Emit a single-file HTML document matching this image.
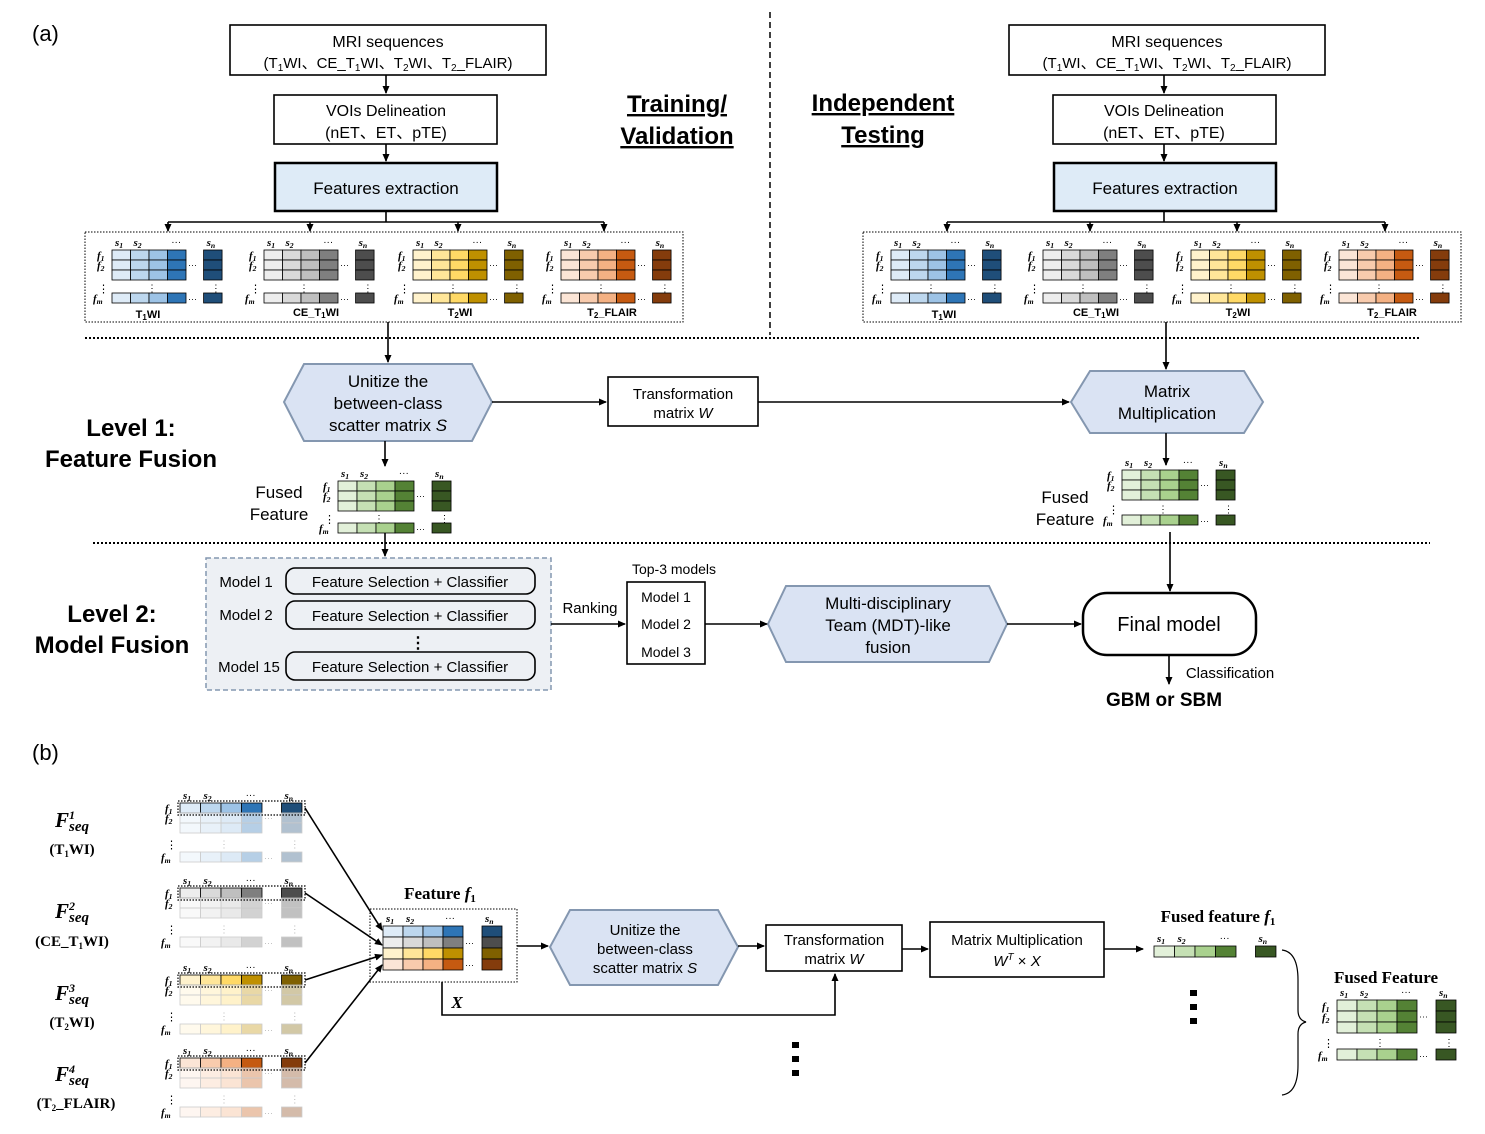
<!DOCTYPE html>
<html><head><meta charset="utf-8"><style>
body{margin:0;background:#fff}
svg{display:block;font-family:"Liberation Sans",Arial,sans-serif}
.t{font-size:16px;text-anchor:middle;fill:#000}
.b{font-weight:bold}
.s{font-family:"Liberation Serif",serif;font-style:italic}
</style></head><body>
<svg id="S" width="1485" height="1134" viewBox="0 0 1485 1134" xmlns="http://www.w3.org/2000/svg">
<defs><marker id="a" markerWidth="8" markerHeight="8" refX="7" refY="4" orient="auto" markerUnits="userSpaceOnUse"><path d="M0,0.5 L8,4 L0,7.5z" fill="#000"/></marker></defs>
<g stroke="#000" stroke-width="1.6" fill="none">
<rect x="230" y="25" width="316" height="50"/><rect x="274" y="95" width="223" height="49"/>
<rect x="1009" y="25" width="316" height="50"/><rect x="1053" y="95" width="223" height="49"/>
<rect x="275" y="163" width="222" height="48" fill="#deebf7" stroke-width="2.5"/>
<rect x="1054" y="163" width="222" height="48" fill="#deebf7" stroke-width="2.5"/>
<path d="M386 211V222M168 222H604M947 222H1385M1164 211V222"/>
<rect x="85" y="232" width="598" height="90" stroke-width="1" stroke-dasharray="1.5,1.5"/>
<rect x="863" y="232" width="598" height="90" stroke-width="1" stroke-dasharray="1.5,1.5"/>
<path d="M770 12V335" stroke-dasharray="6,4" stroke-width="1.5"/>
<path d="M85 338H1420M93 543H1430" stroke-dasharray="2,2" stroke-width="2"/>
<polygon points="304,364 472,364 492,402 472,441 304,441 284,402" fill="#dae3f3" stroke="#8497b0" stroke-width="2"/>
<rect x="608" y="377" width="150" height="49"/>
<polygon points="1090,371 1244,371 1263,402 1244,433 1090,433 1071,402" fill="#dae3f3" stroke="#8497b0" stroke-width="2"/>
<rect x="206" y="558" width="345" height="132" fill="#edf0f4" stroke="#8497b0" stroke-dasharray="5,3" stroke-width="1.5"/>
<rect x="286" y="568" width="249" height="26" rx="9"/>
<rect x="286" y="601" width="249" height="28" rx="9"/>
<rect x="286" y="652" width="249" height="28" rx="9"/>
<rect x="627" y="582" width="78" height="82"/>
<polygon points="786,586 989,586 1007,624 989,662 786,662 768,624" fill="#dae3f3" stroke="#8497b0" stroke-width="2"/>
<rect x="1083" y="593" width="173" height="62" rx="24" stroke-width="2.5"/>
<rect x="370" y="909" width="147" height="73" stroke-width="1" stroke-dasharray="1.5,1.5"/>
<polygon points="570,910 718,910 738,947 718,985 570,985 550,947" fill="#dae3f3" stroke="#8497b0" stroke-width="2"/>
<rect x="766" y="925" width="136" height="46"/>
<rect x="930" y="922" width="174" height="55"/>
<path d="M1282 950Q1298 952 1298 980V1010Q1298 1020 1306 1022Q1298 1024 1298 1034V1065Q1298 1093 1282 1095" stroke-width="1.2"/>
</g>
<g stroke="#000" stroke-width="1.6" fill="none" marker-end="url(#a)">
<path d="M386 75V93"/><path d="M386 144V161"/><path d="M1164 75V93"/><path d="M1164 144V161"/>
<path d="M168 222V231"/><path d="M310 222V231"/><path d="M458 222V231"/><path d="M604 222V231"/>
<path d="M947 222V231"/><path d="M1090 222V231"/><path d="M1237 222V231"/><path d="M1385 222V231"/>
<path d="M388 322V362"/><path d="M1166 322V369"/><path d="M492 402H606"/><path d="M758 402H1069"/>
<path d="M385 441V466"/><path d="M1166 433V465"/><path d="M385 532V556"/><path d="M551 624H625"/>
<path d="M705 624H767"/><path d="M1007 624H1081"/><path d="M1170 532V591"/><path d="M1169 655V684"/>
<path d="M305 808L382 930"/><path d="M305 893L382 945"/><path d="M305 980L382 955"/><path d="M305 1063L382 965"/>
<path d="M517 946H548"/><path d="M738 946H764"/><path d="M902 949H928"/><path d="M1104 949H1143"/>
<path d="M442 982V1015H835V974"/>
</g>
<g id="M"></g>
<g class="t">
<text x="32" y="41" style="text-anchor:start;font-size:22px">(a)</text>
<text x="32" y="760" style="text-anchor:start;font-size:22px">(b)</text>
<text x="388" y="47">MRI sequences</text><text x="388" y="68" style="font-size:15px">(T<tspan font-size="10" dy="3">1</tspan><tspan dy="-3">WI、CE_T</tspan><tspan font-size="10" dy="3">1</tspan><tspan dy="-3">WI、T</tspan><tspan font-size="10" dy="3">2</tspan><tspan dy="-3">WI、T</tspan><tspan font-size="10" dy="3">2</tspan><tspan dy="-3">_FLAIR)</tspan></text>
<text x="1167" y="47">MRI sequences</text><text x="1167" y="68" style="font-size:15px">(T<tspan font-size="10" dy="3">1</tspan><tspan dy="-3">WI、CE_T</tspan><tspan font-size="10" dy="3">1</tspan><tspan dy="-3">WI、T</tspan><tspan font-size="10" dy="3">2</tspan><tspan dy="-3">WI、T</tspan><tspan font-size="10" dy="3">2</tspan><tspan dy="-3">_FLAIR)</tspan></text>
<text x="386" y="116">VOIs Delineation</text><text x="386" y="138">(nET、ET、pTE)</text>
<text x="1164" y="116">VOIs Delineation</text><text x="1164" y="138">(nET、ET、pTE)</text>
<text x="386" y="194" style="font-size:17px">Features extraction</text>
<text x="1165" y="194" style="font-size:17px">Features extraction</text>
<text x="677" y="112" class="b" style="font-size:24px;text-decoration:underline">Training/</text>
<text x="677" y="144" class="b" style="font-size:24px;text-decoration:underline">Validation</text>
<text x="883" y="111" class="b" style="font-size:24px;text-decoration:underline">Independent</text>
<text x="883" y="143" class="b" style="font-size:24px;text-decoration:underline">Testing</text>
<text x="388" y="387" style="font-size:17px">Unitize the</text><text x="388" y="409" style="font-size:17px">between-class</text><text x="388" y="431" style="font-size:17px">scatter matrix <tspan font-style="italic">S</tspan></text>
<text x="683" y="399" style="font-size:15px">Transformation</text><text x="683" y="418" style="font-size:15px">matrix <tspan font-style="italic">W</tspan></text>
<text x="1167" y="397" style="font-size:17px">Matrix</text><text x="1167" y="419" style="font-size:17px">Multiplication</text>
<text x="131" y="436" class="b" style="font-size:24px">Level 1:</text><text x="131" y="467" class="b" style="font-size:24px">Feature Fusion</text>
<text x="279" y="498" style="font-size:17px">Fused</text><text x="279" y="520" style="font-size:17px">Feature</text>
<text x="1065" y="503" style="font-size:17px">Fused</text><text x="1065" y="525" style="font-size:17px">Feature</text>
<text x="112" y="622" class="b" style="font-size:24px">Level 2:</text><text x="112" y="653" class="b" style="font-size:24px">Model Fusion</text>
<text x="246" y="587" style="font-size:15px">Model 1</text><text x="246" y="620" style="font-size:15px">Model 2</text><text x="249" y="672" style="font-size:15px">Model 15</text>
<text x="410" y="587" style="font-size:15px">Feature Selection + Classifier</text>
<text x="410" y="621" style="font-size:15px">Feature Selection + Classifier</text>
<text x="410" y="672" style="font-size:15px">Feature Selection + Classifier</text>
<text x="418" y="648" class="b">⋮</text>
<text x="590" y="613" style="font-size:15px">Ranking</text>
<text x="674" y="574" style="font-size:14px">Top-3 models</text>
<text x="666" y="602" style="font-size:14px">Model 1</text><text x="666" y="629" style="font-size:14px">Model 2</text><text x="666" y="657" style="font-size:14px">Model 3</text>
<text x="888" y="609" style="font-size:17px">Multi-disciplinary</text><text x="888" y="631" style="font-size:17px">Team (MDT)-like</text><text x="888" y="653" style="font-size:17px">fusion</text>
<text x="1169" y="631" style="font-size:20px">Final model</text>
<text x="1230" y="678" style="font-size:15px">Classification</text>
<text x="1164" y="706" class="b" style="font-size:19px">GBM or SBM</text>
<text x="645" y="935" style="font-size:15px">Unitize the</text><text x="645" y="954" style="font-size:15px">between-class</text><text x="645" y="973" style="font-size:15px">scatter matrix <tspan font-style="italic">S</tspan></text>
<text x="834" y="945" style="font-size:15px">Transformation</text><text x="834" y="964" style="font-size:15px">matrix <tspan font-style="italic">W</tspan></text>
<text x="1017" y="945" style="font-size:15px">Matrix Multiplication</text><text x="1017" y="966" style="font-size:15px" font-style="italic">W<tspan font-size="10" dy="-6">T</tspan><tspan dy="6" font-style="normal"> × </tspan>X</text>
<text x="457" y="1008" class="s b" style="font-size:17px">X</text>
<g style="font-family:'Liberation Serif',serif;font-weight:bold;font-size:17px">
<text x="440" y="899">Feature <tspan font-style="italic">f</tspan><tspan font-size="11" dy="3">1</tspan></text>
<text x="1218" y="922">Fused feature <tspan font-style="italic">f</tspan><tspan font-size="11" dy="3">1</tspan></text>
<text x="1386" y="983">Fused Feature</text>
</g>
<g style="font-family:'Liberation Serif',serif;font-weight:bold;font-size:21px">
<text x="72" y="827" font-style="italic">F<tspan font-size="12" dy="-8">1</tspan><tspan font-size="15" dx="-6" dy="12">seq</tspan></text><text x="72" y="854" style="font-size:15px">(T<tspan font-size="9" dy="3">1</tspan><tspan dy="-3">WI)</tspan></text>
<text x="72" y="918" font-style="italic">F<tspan font-size="12" dy="-8">2</tspan><tspan font-size="15" dx="-6" dy="12">seq</tspan></text><text x="72" y="946" style="font-size:15px">(CE_T<tspan font-size="9" dy="3">1</tspan><tspan dy="-3">WI)</tspan></text>
<text x="72" y="1000" font-style="italic">F<tspan font-size="12" dy="-8">3</tspan><tspan font-size="15" dx="-6" dy="12">seq</tspan></text><text x="72" y="1027" style="font-size:15px">(T<tspan font-size="9" dy="3">2</tspan><tspan dy="-3">WI)</tspan></text>
<text x="72" y="1081" font-style="italic">F<tspan font-size="12" dy="-8">4</tspan><tspan font-size="15" dx="-6" dy="12">seq</tspan></text><text x="76" y="1108" style="font-size:15px">(T<tspan font-size="9" dy="3">2</tspan><tspan dy="-3">_FLAIR)</tspan></text>
</g>
<g style="font-size:11px;font-weight:bold">
<text x="148" y="318">T<tspan font-size="8" dy="2">1</tspan><tspan dy="-2">WI</tspan></text><text x="316" y="316">CE_T<tspan font-size="8" dy="2">1</tspan><tspan dy="-2">WI</tspan></text><text x="460" y="316">T<tspan font-size="8" dy="2">2</tspan><tspan dy="-2">WI</tspan></text><text x="612" y="316">T<tspan font-size="8" dy="2">2</tspan><tspan dy="-2">_FLAIR</tspan></text>
<text x="944" y="318">T<tspan font-size="8" dy="2">1</tspan><tspan dy="-2">WI</tspan></text><text x="1096" y="316">CE_T<tspan font-size="8" dy="2">1</tspan><tspan dy="-2">WI</tspan></text><text x="1238" y="316">T<tspan font-size="8" dy="2">2</tspan><tspan dy="-2">WI</tspan></text><text x="1392" y="316">T<tspan font-size="8" dy="2">2</tspan><tspan dy="-2">_FLAIR</tspan></text>
</g>
</g>
<g fill="#000"><rect x="1190" y="990" width="7" height="6"/><rect x="1190" y="1004" width="7" height="6"/><rect x="1190" y="1018" width="7" height="6"/>
<rect x="792" y="1042" width="7" height="6"/><rect x="792" y="1056" width="7" height="6"/><rect x="792" y="1070" width="7" height="6"/></g>
</svg>
<script>
var NS="http://www.w3.org/2000/svg",G=document.getElementById("M");
function el(n,a,t){var e=document.createElementNS(NS,n);for(var k in a)e.setAttribute(k,a[k]);if(t)e.textContent=t;G.appendChild(e);return e;}
var C={b:["#deebf7","#bdd7ee","#9dc3e6","#2e75b6","#1f4e79"],g:["#ededed","#d9d9d9","#bfbfbf","#7f7f7f","#4d4d4d"],y:["#fff2cc","#ffe699","#ffd966","#bf9000","#7f6000"],o:["#fbe5d6","#f8cbad","#f4b183","#c55a11","#843c0c"],gr:["#e2f0d9","#c5e0b4","#a9d18e","#548235","#385723"]};
function lab(x,y,t,sub,fs){fs=fs||11;var e=el("text",{x:x,y:y,"font-family":"Liberation Serif,serif","font-style":"italic","font-weight":"bold","font-size":fs});e.textContent=t;var s=document.createElementNS(NS,"tspan");s.setAttribute("font-size",fs*0.7);s.setAttribute("dy",2);s.textContent=sub;e.appendChild(s);}
function row(x,y,cw,ch,col,snx,op,sc){for(var i=0;i<4;i++)el("rect",{x:x+i*cw,y:y,width:cw,height:ch,fill:col[i],stroke:sc||"#000","stroke-width":0.8,"fill-opacity":op});el("rect",{x:snx,y:y,width:cw,height:ch,fill:col[4],stroke:sc||"#000","stroke-width":0.8,"fill-opacity":op});}
function mat(x,y,cw,ch,nr,col,fmy,opt){opt=opt||{};var snx=x+4*cw+cw*0.95;var fs=opt.fs||11;
 lab(x+3,y-4,"s","1",fs);lab(x+3+cw,y-4,"s","2",fs);el("text",{x:x+cw*3.2,y:y-5,"font-size":10},"···");lab(snx+3,y-4,"s","n",fs);
 for(var r=0;r<nr;r++){var p=opt.pale&&r>0;row(x,y+r*ch,cw,ch,col,snx,p?0.35:1,p?"#ccc":"#000");}
 if(fmy){row(x,fmy,cw,ch,col,snx,opt.pale?0.35:1,opt.pale?"#ccc":"#000");
  el("text",{x:x+cw*2-2,y:(y+nr*ch+fmy)/2+5,"font-size":10,fill:opt.pale?"#bbb":"#000"},"⋮");el("text",{x:snx+cw/2-2,y:(y+nr*ch+fmy)/2+5,"font-size":10,fill:opt.pale?"#bbb":"#000"},"⋮");
  el("text",{x:x-14,y:(y+nr*ch+fmy)/2+6,"font-size":11},"⋮");lab(x-19,fmy+ch-1,"f","m",fs);el("text",{x:x+4*cw+2,y:fmy+ch-1,"font-size":9,fill:opt.pale?"#bbb":"#000"},"···");}
 if(!opt.nof){lab(x-15,y+ch-1,"f","1",fs);if(nr>1)lab(x-15,y+2*ch-1,"f","2",fs);}
 if(nr>1)el("text",{x:x+4*cw+2,y:y+ch*nr/2+3,"font-size":9,fill:opt.pale?"#bbb":"#000"},"···");
}
var L=[[112,"b"],[264,"g"],[413,"y"],[561,"o"]],R=[[891,"b"],[1043,"g"],[1191,"y"],[1339,"o"]];
L.forEach(function(a){mat(a[0],250,18.5,10,3,C[a[1]],293);});
R.forEach(function(a){mat(a[0],250,18.5,10,3,C[a[1]],293);});
mat(338,481,19,10,3,C.gr,523);
mat(1122,470,19,10,3,C.gr,515);
var B=[[803,"b"],[888,"g"],[975,"y"],[1058,"o"]];
B.forEach(function(a){mat(180,a[0],20.5,10,3,C[a[1]],a[0]+49,{pale:1});el("rect",{x:178,y:a[0]-2,width:127,height:14,fill:"none",stroke:"#000","stroke-dasharray":"1.5,1.5","stroke-width":1.2});});
(function(){var x=383,y=926,cw=20;lab(x+3,y-4,"s","1");lab(x+23,y-4,"s","2");el("text",{x:x+62,y:y-5,"font-size":10},"···");lab(x+102,y-4,"s","n");
["b","g","y","o"].forEach(function(k,r){row(x,y+r*11,cw,11,C[k],x+99);});el("text",{x:x+82,y:y+20,"font-size":9},"···");el("text",{x:x+82,y:y+42,"font-size":9},"···");})();
mat(1154,946,20.5,11,1,C.gr,0,{nof:1});
mat(1337,1000,20,11,3,C.gr,1049);
</script>
</body></html>
